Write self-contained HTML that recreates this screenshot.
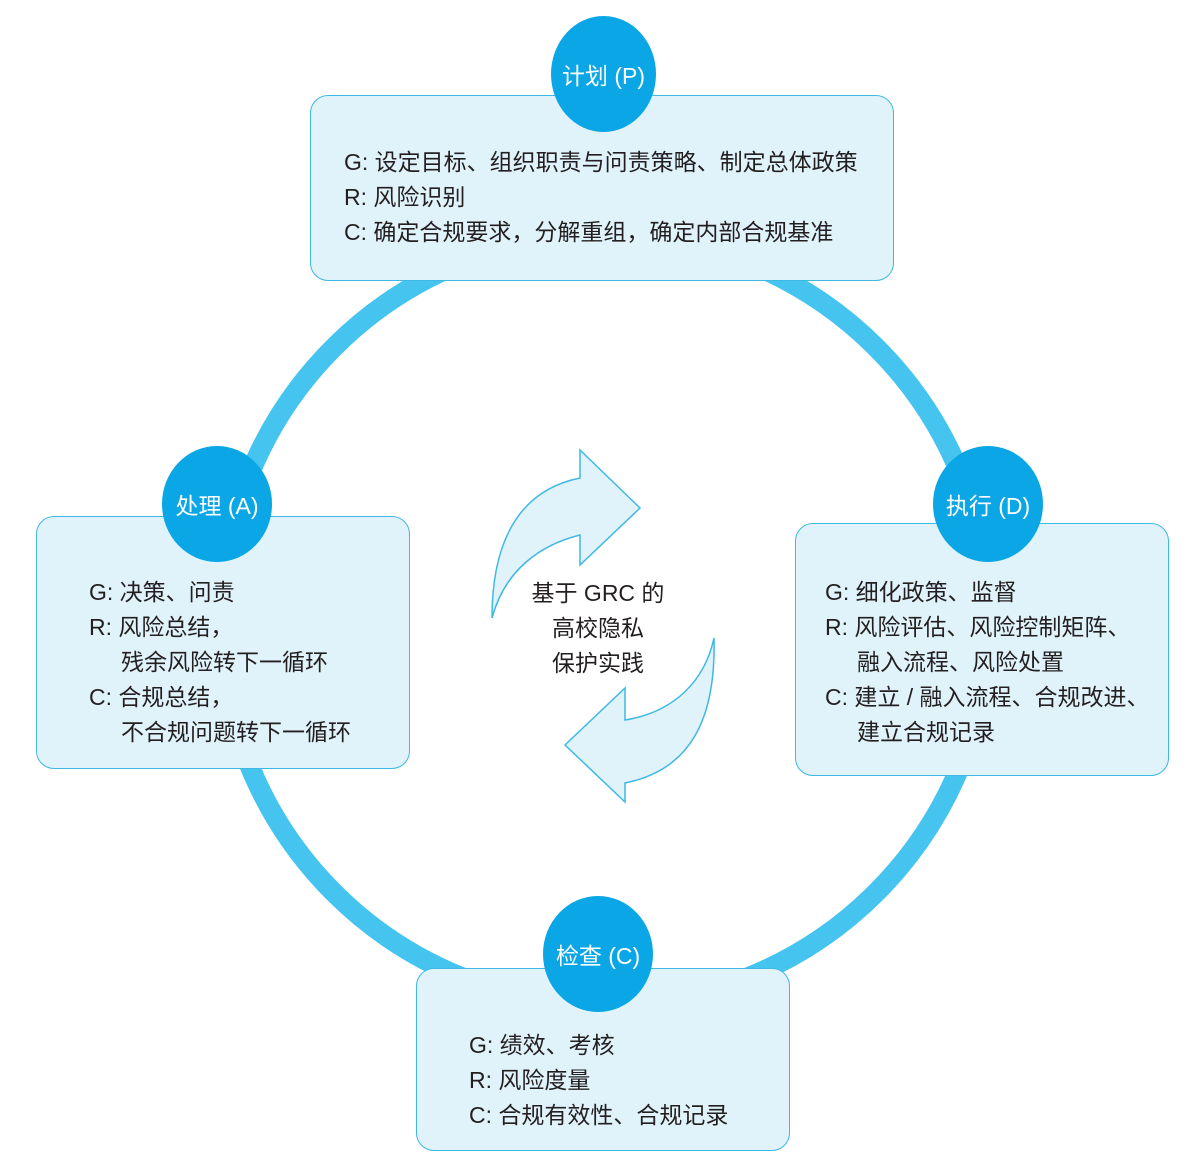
<!DOCTYPE html>
<html><head><meta charset="utf-8"><style>
body{margin:0;background:#fff;width:1191px;height:1169px;overflow:hidden;position:relative;font-family:"Liberation Sans","Noto Sans CJK SC",sans-serif;}
.box{position:absolute;background:#e0f3fb;border:1.5px solid #3fb8e4;border-radius:18px;box-sizing:border-box;}
.t{position:absolute;font-size:23px;color:#231f20;line-height:35px;white-space:nowrap;}
.t span{display:block;padding-left:32px;}
.n{position:absolute;background:#0aa6e6;border-radius:50%;color:#fff;font-size:23px;display:flex;align-items:center;justify-content:center;}
</style></head><body>
<svg width="1191" height="1169" style="position:absolute;left:0;top:0">
<ellipse cx="605" cy="620" rx="384" ry="385" fill="none" stroke="#45c4f0" stroke-width="20"/>
<path d="M492,618 C492,540 520,490 580,478 L580,450 L640,508 L580,565 L580,535 C540,545 505,570 492,618 Z" fill="#e0f3fb" stroke="#3fb8e4" stroke-width="1.5"/>
<path d="M714,638 C716,720 690,770 625,783 L625,802 L565,745 L625,688 L625,720 C675,712 705,680 714,638 Z" fill="#e0f3fb" stroke="#3fb8e4" stroke-width="1.5"/>
</svg>
<div class="box" style="left:310px;top:95px;width:584px;height:186px"></div>
<div class="box" style="left:36px;top:516px;width:374px;height:253px"></div>
<div class="box" style="left:795px;top:523px;width:374px;height:253px"></div>
<div class="box" style="left:416px;top:968px;width:374px;height:183px"></div>
<div class="n" style="left:551px;top:16px;width:105px;height:116px">计划 (P)</div>
<div class="n" style="left:162px;top:446px;width:110px;height:116px">处理 (A)</div>
<div class="n" style="left:933px;top:446px;width:110px;height:116px">执行 (D)</div>
<div class="n" style="left:543px;top:896px;width:110px;height:116px">检查 (C)</div>
<div class="t" style="left:344px;top:145px">G: 设定目标、组织职责与问责策略、制定总体政策<br>R: 风险识别<br>C: 确定合规要求，分解重组，确定内部合规基准</div>
<div class="t" style="left:89px;top:575px">G: 决策、问责<br>R: 风险总结，<span>残余风险转下一循环</span>C: 合规总结，<span>不合规问题转下一循环</span></div>
<div class="t" style="left:825px;top:575px">G: 细化政策、监督<br>R: 风险评估、风险控制矩阵、<span>融入流程、风险处置</span>C: 建立 / 融入流程、合规改进、<span>建立合规记录</span></div>
<div class="t" style="left:469px;top:1028px">G: 绩效、考核<br>R: 风险度量<br>C: 合规有效性、合规记录</div>
<div class="t" style="left:498px;top:576px;width:200px;text-align:center">基于 GRC 的<br>高校隐私<br>保护实践</div>
</body></html>
